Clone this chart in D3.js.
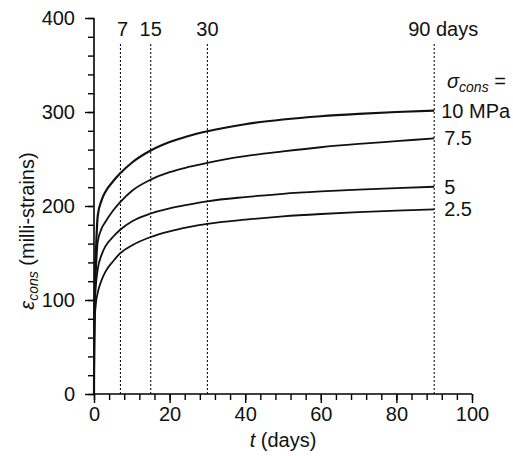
<!DOCTYPE html>
<html>
<head>
<meta charset="utf-8">
<script src="https://cdn.jsdelivr.net/npm/d3@7"></script>
<style>
  body { margin: 0; background: #fff; }
  text { font-family: "Liberation Sans", Arial, sans-serif; fill: #111; }
</style>
</head>
<body>
<script>
// time points (days)
const days = [0, 0.05, 0.2, 0.5, 1, 2, 3, 5, 7, 10, 15, 20, 25, 30, 40, 50, 60, 70, 80, 90];

// consolidation strain (milli-strains) per stress level
const eps10 = [0, 55, 110, 150, 190, 206, 215, 226, 235, 246, 259, 268, 274.5, 279.5, 287, 292, 295.5, 298, 300, 301.5];
const eps75 = [0, 50, 100, 130, 162, 176, 183, 195, 204.5, 216, 228, 236, 241.5, 246, 253, 258, 262.5, 266, 269, 272];
const eps5  = [0, 45, 92, 115, 133, 148, 157, 167, 175, 183.5, 192, 197.5, 201.5, 205, 209.5, 213, 215.5, 217.5, 219, 220.5];
const eps25 = [0, 40, 80, 96, 108, 121, 130, 141, 150, 158, 167, 173, 177.5, 181, 185.5, 189, 191.5, 193.5, 195, 196.5];

const seriesLabels = ["10 MPa", "7.5", "5", "2.5"];
const markerDays = [7, 15, 30, 90];
const markerLabels = ["7", "15", "30", "90 days"];

const xTicks = [0, 20, 40, 60, 80, 100];
const yTicks = [0, 100, 200, 300, 400];

const W = 513, H = 456;
let margin = {top: 18, left: 94, bottom: 62, right: 41};
let width = W - margin.left - margin.right;
let height = H - margin.top - margin.bottom;

const svg = d3.select("body").append("svg")
    .attr("width", W)
    .attr("height", H)
  .append("g")
    .attr("transform", `translate(${margin.left}, ${margin.top})`);

const x = d3.scaleLinear().domain([0, 100]).range([0, width]);
const y = d3.scaleLinear().domain([0, 400]).range([height, 0]);

// dotted day markers
svg.selectAll(".marker")
  .data(markerDays)
  .join("line")
    .attr("x1", d => x(d)).attr("x2", d => x(d))
    .attr("y1", y(0)).attr("y2", y(373))
    .attr("stroke", "#111")
    .attr("stroke-width", 1.1)
    .attr("stroke-dasharray", "2,2");

svg.selectAll(".markerLabel")
  .data(markerDays)
  .join("text")
    .attr("x", (d, i) => x(d) + (i === 0 ? 2 : i === 3 ? 9 : 0))
    .attr("y", 36 - margin.top)
    .attr("text-anchor", "middle")
    .attr("font-size", 20)
    .text((d, i) => markerLabels[i]);

// minor ticks
const yMinor = d3.range(0, 401, 20);
const xMinor = d3.range(0, 101, 4);

// y axis
const yAxis = svg.append("g")
    .call(d3.axisLeft(y).tickValues(yMinor).tickSize(6).tickFormat(""));
yAxis.select(".domain").attr("stroke-width", 1.6).attr("d", `M0,${height}V0`);
yAxis.selectAll(".tick line").attr("stroke-width", 1.4);

const yMajor = svg.append("g")
    .call(d3.axisLeft(y).tickValues(yTicks).tickSize(9).tickPadding(10));
yMajor.select(".domain").remove();
yMajor.selectAll(".tick line").attr("stroke-width", 1.4);
yMajor.selectAll(".tick text").attr("font-size", 20).attr("font-family", "Liberation Sans, Arial, sans-serif").attr("fill", "#111");

// x axis
const xAxis = svg.append("g")
    .attr("transform", `translate(0, ${height})`)
    .call(d3.axisBottom(x).tickValues(xMinor).tickSize(6).tickFormat(""));
xAxis.select(".domain").attr("stroke-width", 1.6).attr("d", `M0,0H${width}`);
xAxis.selectAll(".tick line").attr("stroke-width", 1.4);

const xMajor = svg.append("g")
    .attr("transform", `translate(0, ${height})`)
    .call(d3.axisBottom(x).tickValues(xTicks).tickSize(9).tickPadding(4));
xMajor.select(".domain").remove();
xMajor.selectAll(".tick line").attr("stroke-width", 1.4);
xMajor.selectAll(".tick text").attr("font-size", 20).attr("font-family", "Liberation Sans, Arial, sans-serif").attr("fill", "#111");

// axis titles
const xt = svg.append("text")
    .attr("x", width / 2)
    .attr("y", 447 - margin.top)
    .attr("text-anchor", "middle")
    .attr("font-size", 20);
xt.append("tspan").attr("font-style", "italic").text("t");
xt.append("tspan").text(" (days)");

const yt = svg.append("text")
    .attr("transform", `translate(${34 - margin.left}, ${height / 2 + 25}) rotate(-90)`)
    .attr("text-anchor", "middle")
    .attr("font-size", 20);
yt.append("tspan").attr("font-style", "italic").text("ε");
yt.append("tspan").attr("font-style", "italic").attr("font-size", 14).attr("dy", 4).text("cons");
yt.append("tspan").attr("dy", -4).text(" (milli-strains)");

// curves
const allSeries = [eps10, eps75, eps5, eps25];
const line = d3.line()
    .x((d, i) => x(days[i]))
    .y(d => y(d))
    .curve(d3.curveMonotoneX);

svg.selectAll(".curve")
  .data(allSeries)
  .join("path")
    .attr("d", line)
    .attr("fill", "none")
    .attr("stroke", "#111")
    .attr("stroke-width", (d, i) => i === 0 ? 2.2 : 1.8);

// series labels
const sig = svg.append("text")
    .attr("x", 447 - margin.left)
    .attr("y", 88 - margin.top)
    .attr("font-size", 20);
sig.append("tspan").attr("font-style", "italic").text("σ");
sig.append("tspan").attr("font-style", "italic").attr("font-size", 14).attr("dy", 4).text("cons");
sig.append("tspan").attr("dy", -4).text(" =");

svg.selectAll(".seriesLabel")
  .data(allSeries)
  .join("text")
    .attr("x", (d, i) => x(90) + (i === 0 ? 7 : 10))
    .attr("y", d => y(d[d.length - 1]) + 7)
    .attr("font-size", 20)
    .text((d, i) => seriesLabels[i]);
</script>
</body>
</html>
